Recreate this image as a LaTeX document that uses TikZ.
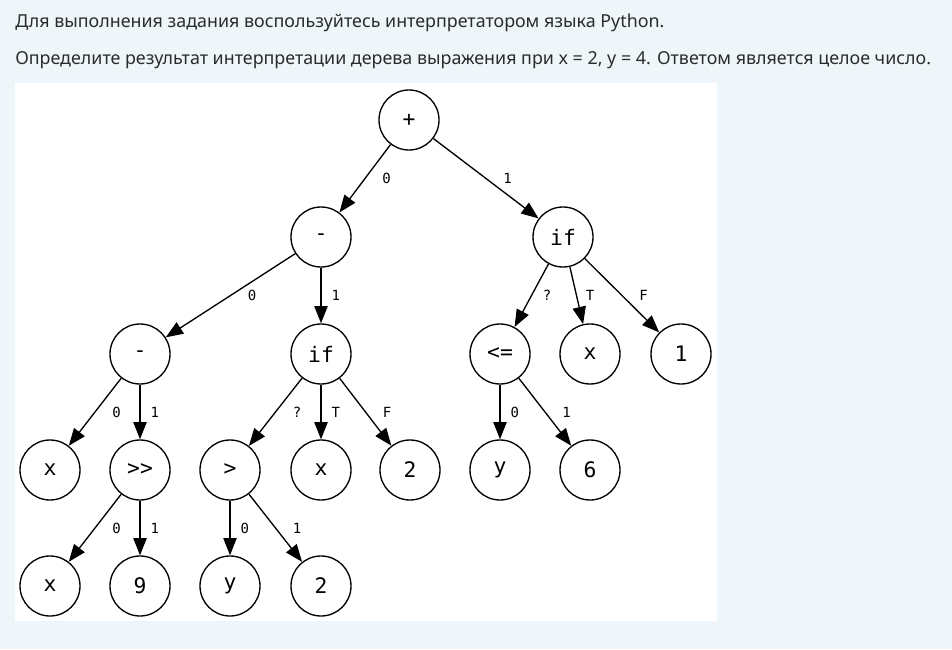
\documentclass[tikz,border=0pt]{standalone}
\usepackage{fontspec}
\setmainfont{Noto Sans}
\newfontfamily\codefont{DejaVu Sans Mono}
\usetikzlibrary{arrows.meta}

\definecolor{pagebg}{HTML}{EEF6F9}
\definecolor{textcol}{HTML}{2B2B2B}

\tikzset{
  op/.style={draw, circle, line width=1pt, minimum size=45pt, inner sep=0pt,
    font=\codefont\fontsize{16}{16}\selectfont},
  link/.style={line width=1pt, -{Triangle[length=13pt,width=10pt]}},
  lbl/.style={midway, anchor=west, inner sep=0pt, xshift=#1,
    font=\codefont\fontsize{10.5}{10.5}\selectfont},
  lbl/.default=12.5pt,
  task/.style={anchor=base west, inner sep=0pt, text=textcol,
    font=\fontsize{13.4}{15}\selectfont}
}

\begin{document}
\begin{tikzpicture}[x=0.75pt, y=-0.75pt]
  \fill[pagebg] (0,0) rectangle (952,649); %A: Page
  \fill[white] (15,83) rectangle (717,621); %A: Panel

  \node[task] (line1) at (15,28) {Для выполнения задания воспользуйтесь интерпретатором языка Python.};
  \node[task] (line2) at (15,65) {Определите результат интерпретации дерева выражения при x = 2, y = 4. Ответом является целое число.};

  \node[op] (plus) at (409,120) {+};
  \node[op] (subA) at (321,237) {-};
  \node[op] (ifA)  at (563,237) {if};
  \node[op] (subB) at (140,354) {-};
  \node[op] (ifB)  at (321,354) {if};
  \node[op] (le)   at (500,354) {<=};
  \node[op] (xA)   at (590,354) {x};
  \node[op] (one)  at (681,354) {1};
  \node[op] (xB)   at (50,470)  {x};
  \node[op] (shr)  at (140,470) {>>};
  \node[op] (gt)   at (230,470) {>};
  \node[op] (xC)   at (321,470) {x};
  \node[op] (twoA) at (410,470) {2};
  \node[op] (yA)   at (500,470) {y};
  \node[op] (six)  at (590,470) {6};
  \node[op] (xD)   at (50,586)  {x};
  \node[op] (nine) at (140,586) {9};
  \node[op] (yB)   at (230,586) {y};
  \node[op] (twoB) at (321,586) {2};

  \draw[link] (plus) -- (subA) node[lbl] {0};
  \draw[link] (plus) -- (ifA) node[lbl] {1};
  \draw[link] (subA) -- (subB) node[lbl] {0};
  \draw[link] (subA) -- (ifB) node[lbl=7.5pt] {1};
  \draw[link] (ifA) -- (le) node[lbl=8pt] {?};
  \draw[link] (ifA) -- (xA) node[lbl=6.5pt] {T};
  \draw[link] (ifA) -- (one) node[lbl] {F};
  \draw[link] (subB) -- (xB) node[lbl] {0};
  \draw[link] (subB) -- (shr) node[lbl=7.5pt] {1};
  \draw[link] (ifB) -- (gt) node[lbl] {?};
  \draw[link] (ifB) -- (xC) node[lbl=7.5pt] {T};
  \draw[link] (ifB) -- (twoA) node[lbl] {F};
  \draw[link] (le) -- (yA) node[lbl=7.5pt] {0};
  \draw[link] (le) -- (six) node[lbl] {1};
  \draw[link] (shr) -- (xD) node[lbl] {0};
  \draw[link] (shr) -- (nine) node[lbl=7.5pt] {1};
  \draw[link] (gt) -- (yB) node[lbl=7.5pt] {0};
  \draw[link] (gt) -- (twoB) node[lbl] {1};
\end{tikzpicture}
\end{document}
